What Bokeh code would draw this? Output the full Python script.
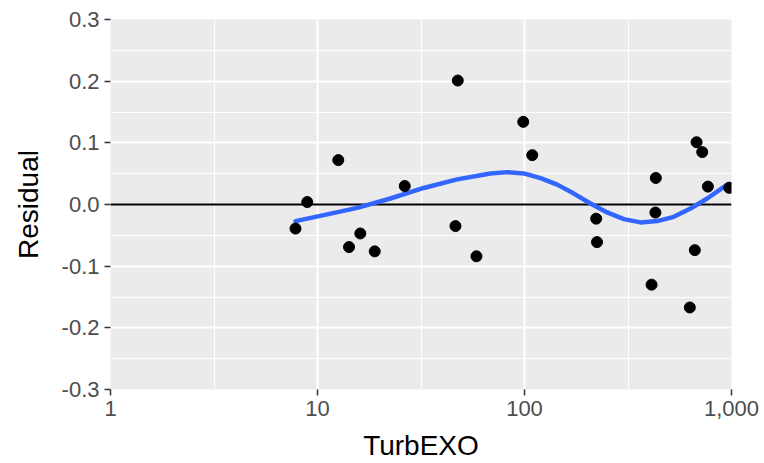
from bokeh.plotting import figure
from bokeh.models import (ColumnDataSource, FixedTicker, Range1d, Span,
                          CustomJSTickFormatter)
from bokeh.embed import file_html
from bokeh.resources import INLINE

# ---- data ----
turb = [7.83, 8.92, 12.6, 14.2, 16.1, 18.9, 26.4, 46.4, 47.6, 58.6, 98.6, 109,
        222, 224, 411, 431, 429, 629, 665, 678, 722, 769, 975]
resid = [-0.039, 0.004, 0.072, -0.069, -0.047, -0.076, 0.030, -0.035, 0.201,
         -0.084, 0.134, 0.080, -0.023, -0.061, -0.130, 0.043, -0.013, -0.167,
         -0.074, 0.101, 0.085, 0.029, 0.027]

smooth_x = [7.83, 10.72, 15.55, 22.5, 32.6, 47.3, 68.5, 82.5, 99.2, 119.5,
            143.9, 173.1, 208.4, 250.9, 301.8, 363.4, 437.7, 526.3, 633.9,
            763.2, 953.3, 975]
smooth_y = [-0.027, -0.0172, -0.0055, 0.0097, 0.0268, 0.0407, 0.0504, 0.0525,
            0.0504, 0.0428, 0.0322, 0.0177, 0.0016, -0.0129, -0.0237, -0.0290,
            -0.0269, -0.0200, -0.0064, 0.0097, 0.0322, 0.0335]

x_ticks = [1, 10, 100, 1000]
x_tick_labels = ["1", "10", "100", "1,000"]
x_minor = [3.1623, 31.623, 316.23]
y_ticks = [-0.3, -0.2, -0.1, 0.0, 0.1, 0.2, 0.3]
y_tick_labels = ["-0.3", "-0.2", "-0.1", "0.0", "0.1", "0.2", "0.3"]
y_minor = [-0.25, -0.15, -0.05, 0.05, 0.15, 0.25]
x_limits = (1, 1000)
y_limits = (-0.3, 0.3)

p = figure(width=764, height=463, x_axis_type="log",
           x_range=Range1d(*x_limits), y_range=Range1d(*y_limits),
           output_backend="svg", toolbar_location=None,
           min_border_left=110, min_border_right=33,
           min_border_top=19, min_border_bottom=73)

p.background_fill_color = "#EBEBEB"
p.border_fill_color = "white"
p.outline_line_color = None

fmt_code = """
let best = 0, bd = Infinity;
for (let i = 0; i < tvals.length; i++) {
  const d = Math.abs(tvals[i] - tick);
  if (d < bd) { bd = d; best = i; }
}
return tlabels[best];
"""
p.xaxis.ticker = FixedTicker(ticks=x_ticks, minor_ticks=x_minor)
p.yaxis.ticker = FixedTicker(ticks=y_ticks, minor_ticks=y_minor)
p.xaxis.formatter = CustomJSTickFormatter(args=dict(tvals=x_ticks, tlabels=x_tick_labels), code=fmt_code)
p.yaxis.formatter = CustomJSTickFormatter(args=dict(tvals=y_ticks, tlabels=y_tick_labels), code=fmt_code)

for ax in (p.xaxis, p.yaxis):
    ax.axis_line_color = None
    ax.minor_tick_line_color = None
    ax.major_tick_line_color = "#333333"
    ax.major_tick_line_width = 1.5
    ax.major_tick_in = 0
    ax.major_tick_out = 6
    ax.major_label_text_color = "#4D4D4D"
    ax.major_label_text_font = "Liberation Sans"
    ax.major_label_text_font_size = "22px"
    ax.axis_label_text_font = "Liberation Sans"
    ax.axis_label_text_font_size = "28px"
    ax.axis_label_text_font_style = "normal"
    ax.axis_label_text_color = "black"

p.xaxis.axis_label = "TurbEXO"
p.yaxis.axis_label = "Residual"
p.xaxis.major_label_standoff = 5
p.yaxis.major_label_standoff = 5
p.xaxis.axis_label_standoff = 11
p.yaxis.axis_label_standoff = 15

for g in (p.xgrid, p.ygrid):
    g.grid_line_color = "white"
    g.grid_line_width = 2
    g.minor_grid_line_color = "white"
    g.minor_grid_line_width = 1

zero = Span(location=0, dimension="width", line_color="black",
            line_width=1.8, level="underlay")
p.add_layout(zero)

pts = ColumnDataSource(dict(x=turb, y=resid))
sm = ColumnDataSource(dict(x=smooth_x, y=smooth_y))

p.line("x", "y", source=sm, line_color="#3366FF", line_width=4.5,
       line_join="round", line_cap="round")
p.scatter("x", "y", source=pts, size=11, fill_color="black", line_color="black")

open("out.html", "w").write(file_html(p, INLINE))
